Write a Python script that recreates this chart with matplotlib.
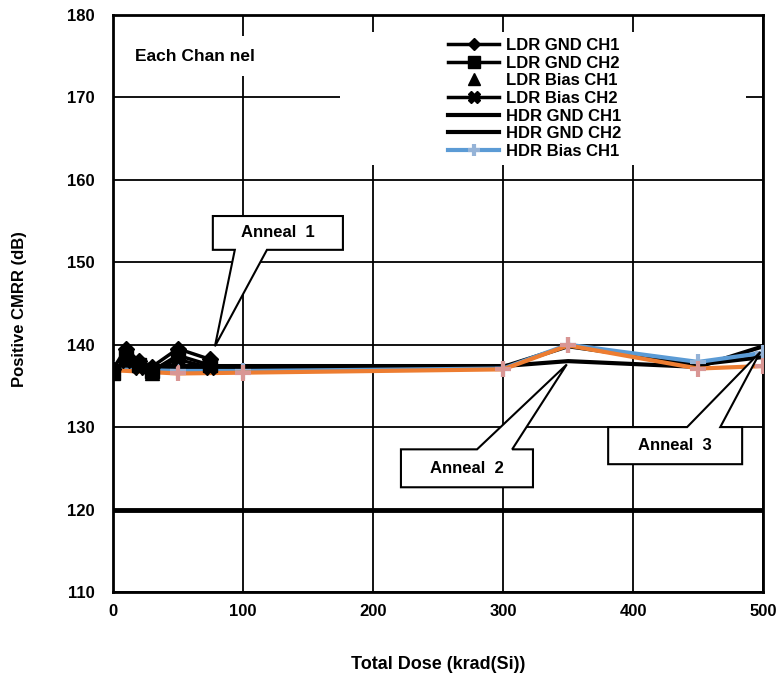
import matplotlib
matplotlib.use("Agg")
import matplotlib.pyplot as plt
from matplotlib.lines import Line2D
from matplotlib.patches import Polygon, Rectangle

plt.rcParams['font.family'] = ['Liberation Sans', 'DejaVu Sans']
plt.rcParams['font.weight'] = 'bold'

# dose points (krad(Si))
ldr_dose = [0, 10, 20, 30, 50, 75]
hdr_dose = [0, 50, 100, 300, 350, 450, 500]

# positive CMRR (dB)
ldr_gnd_ch1 = [137.0, 139.5, 138.0, 137.3, 139.5, 138.2]
ldr_gnd_ch2 = [136.5, 138.5, 137.5, 136.8, 138.7, 137.5]
ldr_bias_ch1 = [137.2, 139.0, 137.8, 136.5, 139.0, 137.8]
ldr_bias_ch2 = [136.8, 138.0, 137.2, 137.0, 138.2, 137.2]

hdr_gnd_ch1 = [137.4, 137.4, 137.4, 137.4, 138.0, 137.3, 139.8]
hdr_gnd_ch2 = [137.3, 137.3, 137.3, 137.3, 139.8, 137.6, 138.5]
hdr_bias_ch1 = [137.0, 136.8, 136.8, 137.1, 140.0, 137.9, 139.0]
hdr_bias_ch2 = [136.9, 136.5, 136.6, 137.0, 139.9, 137.1, 137.4]

spec_limit = 120

fig = plt.figure(figsize=(7.78, 6.75), dpi=100)
ax = fig.add_axes([0.145, 0.123, 0.836, 0.855])

ax.plot(ldr_dose, ldr_gnd_ch1, color='black', lw=2.5, marker='D', ms=8, zorder=4)
ax.plot(ldr_dose, ldr_gnd_ch2, color='black', lw=2.5, marker='s', ms=10, zorder=4)
ax.plot(ldr_dose, ldr_bias_ch1, color='black', lw=0, marker='^', ms=10, zorder=4)
ax.plot(ldr_dose, ldr_bias_ch2, color='black', lw=2.5, marker='X', ms=10, zorder=4)
ax.plot(hdr_dose, hdr_gnd_ch1, color='black', lw=3, zorder=3)
ax.plot(hdr_dose, hdr_gnd_ch2, color='black', lw=3, zorder=3)
ax.plot(hdr_dose, hdr_bias_ch1, color='#5B9BD5', lw=3, marker='+', ms=11, mew=3,
        mec='#95B3D7', zorder=3)
ax.plot(hdr_dose, hdr_bias_ch2, color='#ED7D31', lw=3, marker='+', ms=11, mew=3,
        mec='#D99694', zorder=3)
ax.axhline(spec_limit, color='black', lw=3.5, zorder=3)

ax.set_xlim(0, 500)
ax.set_ylim(110, 180)
ax.set_xticks(range(0, 501, 100))
ax.set_yticks(range(110, 181, 10))
ax.grid(True, color='black', lw=1.3)
ax.set_axisbelow(True)
for s in ax.spines.values():
    s.set_linewidth(2)
ax.tick_params(length=0, labelsize=12)
ax.tick_params(axis='y', pad=13)
ax.tick_params(axis='x', pad=9)
for lab in ax.get_xticklabels() + ax.get_yticklabels():
    lab.set_fontweight('bold')

ax.set_xlabel('Total Dose (krad(Si))', fontsize=13, fontweight='bold', labelpad=26)
ax.set_ylabel('Positive CMRR (dB)', fontsize=12, fontweight='bold')
ax.yaxis.set_label_coords(-0.132, 0.49)

# legend handles (smaller markers than the plotted ones)
handles = [
    Line2D([], [], color='black', lw=2.5, marker='D', ms=6),
    Line2D([], [], color='black', lw=2.5, marker='s', ms=9),
    Line2D([], [], color='black', lw=0, marker='^', ms=8),
    Line2D([], [], color='black', lw=2.5, marker='X', ms=8),
    Line2D([], [], color='black', lw=3),
    Line2D([], [], color='black', lw=3),
    Line2D([], [], color='#5B9BD5', lw=3, marker='+', ms=9, mew=3, mec='#95B3D7'),
]
labels = ['LDR GND CH1', 'LDR GND CH2', 'LDR Bias CH1', 'LDR Bias CH2',
          'HDR GND CH1', 'HDR GND CH2', 'HDR Bias CH1']

# white area behind legend
ax.add_patch(Rectangle((0.349, 0.74), 0.625, 0.23, transform=ax.transAxes,
                       facecolor='white', edgecolor='none', zorder=1.8))
leg = ax.legend(handles, labels, loc='upper left', bbox_to_anchor=(0.515, 0.96), frameon=False,
                fontsize=12, handlelength=3.1, handletextpad=0.4, labelspacing=0.16,
                borderpad=0, borderaxespad=0)
leg.set_zorder(5)

ax.text(17, 175.0, 'Each Chan nel', fontsize=12.5, fontweight='bold', va='center', ha='left',
        bbox=dict(facecolor='white', edgecolor='none', pad=9), zorder=5)


def callout(box, base, tip, label, down):
    x0, x1, y0, y1 = box
    b0, b1 = base
    if down:
        pts = [(x0, y1), (x1, y1), (x1, y0), (b1, y0), tip, (b0, y0), (x0, y0)]
    else:
        pts = [(x0, y0), (x0, y1), (b0, y1), tip, (b1, y1), (x1, y1), (x1, y0)]
    ax.add_patch(Polygon(pts, closed=True, facecolor='white', edgecolor='black', lw=1.5, zorder=6))
    ax.text((x0 + x1) / 2, (y0 + y1) / 2, label, ha='center', va='center',
            fontsize=12, fontweight='bold', zorder=7)


callout((76.9, 176.9, 151.5, 155.6), (93.8, 118.5), (78.5, 139.8), 'Anneal  1', True)
callout((221.5, 323.0, 122.7, 127.3), (280.0, 307.0), (349.0, 137.6), 'Anneal  2', False)
callout((380.8, 483.8, 125.5, 130.0), (441.5, 467.0), (497.7, 139.1), 'Anneal  3', False)

fig.savefig('out.png', dpi=100)
